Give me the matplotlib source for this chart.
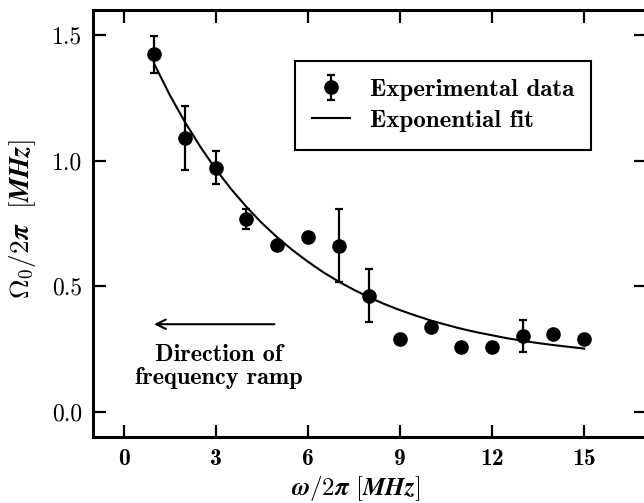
import numpy as np
import matplotlib
matplotlib.use('Agg')
import matplotlib.pyplot as plt

# data
freq = [1, 2, 3, 4, 5, 6, 7, 8, 9, 10, 11, 12, 13, 14, 15]
rabi = [1.423, 1.092, 0.972, 0.767, 0.665, 0.695, 0.662, 0.462,
        0.289, 0.336, 0.260, 0.260, 0.302, 0.309, 0.292]
rabi_err = [0.072, 0.127, 0.065, 0.040, 0.015, 0.015, 0.146, 0.106,
            0.015, 0.015, 0.015, 0.015, 0.064, 0.015, 0.015]

# exponential fit curve
fit_x = [1, 1.5, 2, 2.5, 3, 3.5, 4, 4.5, 5, 5.5, 6, 6.5, 7, 7.5, 8,
         8.5, 9, 9.5, 10, 10.5, 11, 11.5, 12, 12.5, 13, 13.5, 14, 14.5, 15]
fit_y = [1.384, 1.262, 1.153, 1.055, 0.966, 0.887, 0.816, 0.752, 0.695,
         0.644, 0.598, 0.556, 0.519, 0.486, 0.456, 0.429, 0.405, 0.384,
         0.364, 0.347, 0.331, 0.317, 0.305, 0.293, 0.283, 0.274, 0.266,
         0.259, 0.252]

xticks = [0, 3, 6, 9, 12, 15]
yticks = [0.0, 0.5, 1.0, 1.5]

plt.rcParams['font.family'] = 'cmb10'
plt.rcParams['mathtext.fontset'] = 'cm'
plt.rcParams['font.size'] = 17

fig = plt.figure(figsize=(6.44, 5.03), dpi=100)
ax = fig.add_axes([0.1444, 0.1312, 0.858, 0.8489])

eb = ax.errorbar(freq, rabi, yerr=rabi_err, fmt='o', color='k', ms=9.5,
                 elinewidth=1.6, capsize=2.8, capthick=1.6)
fl, = ax.plot(fit_x, fit_y, color='k', lw=1.5)

ax.annotate('', xy=(0.9, 0.349), xytext=(5.0, 0.349),
            arrowprops=dict(arrowstyle='->', color='k', lw=1.5))
ax.text(3.1, 0.18, 'Direction of\nfrequency ramp', ha='center',
        va='center', linespacing=1.05, fontsize=17.5)

ax.set_xlim(-1, 17)
ax.set_ylim(-0.1, 1.6)
ax.set_xticks(xticks)
ax.set_yticks(yticks)
ax.set_yticklabels(['%.1f' % v for v in yticks], family='cmr10')
ax.tick_params(direction='in', length=9, width=1.6, top=True, right=True,
               pad=8)
for s in ax.spines.values():
    s.set_linewidth(2.2)

ax.set_xlabel(r'$\boldsymbol{\omega/2\pi\ [MHz]}$', fontsize=18)
ax.set_ylabel(r'$\boldsymbol{\Omega_0/2\pi\ \ [MHz]}$', fontsize=19.5)
ax.xaxis.set_label_coords(0.475, -0.087)
ax.yaxis.set_label_coords(-0.1, 0.51)

leg = ax.legend([eb, fl], ['Experimental data', 'Exponential fit'],
                loc='upper right', bbox_to_anchor=(0.902, 0.881),
                borderaxespad=0, fontsize=18, fancybox=False,
                edgecolor='k', framealpha=1, handlelength=1.5,
                handletextpad=0.8, borderpad=0.7, labelspacing=0.35)
leg.get_frame().set_linewidth(1.5)

fig.savefig('out.png', dpi=100)
